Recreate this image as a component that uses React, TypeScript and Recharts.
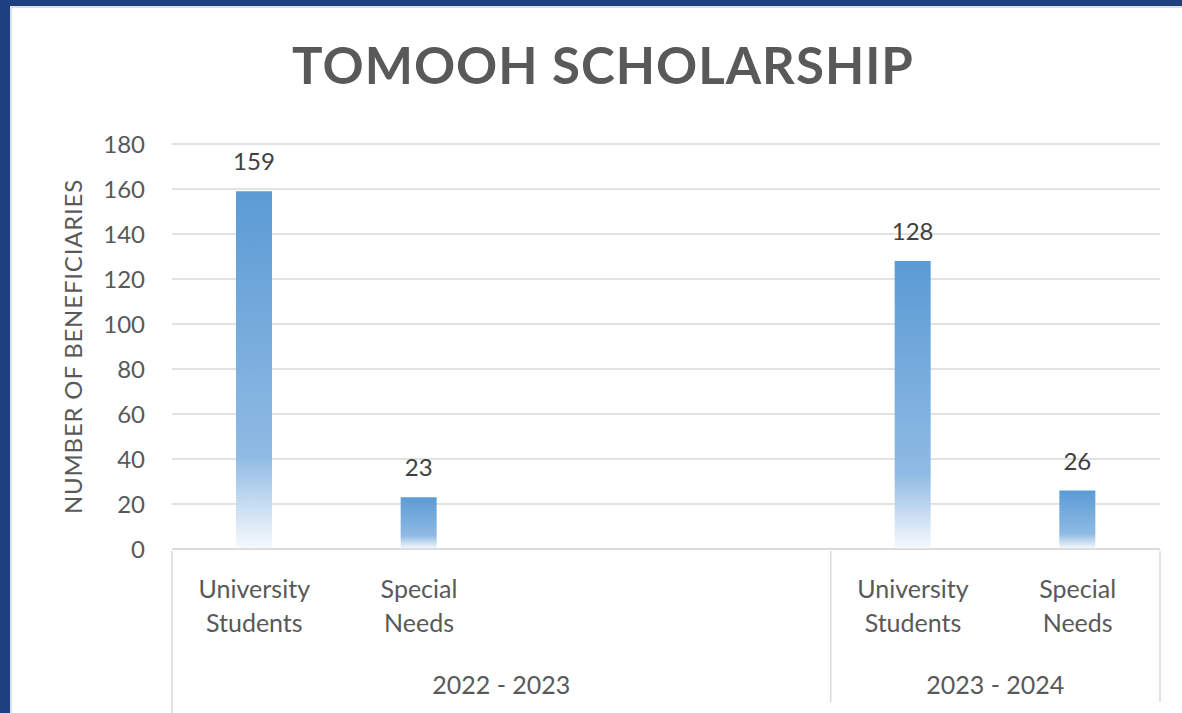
import { BarChart, Bar, XAxis, YAxis, CartesianGrid, LabelList } from 'recharts';

const categories = ['University Students', 'Special Needs', '', '', 'University Students', 'Special Needs'];
const beneficiaries = [159, 23, null, null, 128, 26];
const years = ['2022 - 2023', '2022 - 2023', '2022 - 2023', '2022 - 2023', '2023 - 2024', '2023 - 2024'];
const yTicks = [0, 20, 40, 60, 80, 100, 120, 140, 160, 180];

const chartData = categories.map((label, i) => ({
  key: `c${i}`,
  label,
  year: years[i],
  value: beneficiaries[i],
}));

const W = 1182;
const H = 713;
const xAxisHeight = 164;
const margin = { top: 144, right: 22, bottom: 0, left: 52 };
const yAxisWidth = 120;
const plotWidth = W - margin.left - margin.right - yAxisWidth;
const band = plotWidth / categories.length;

const FONT = 'Lato, "Open Sans", sans-serif';
const GREY = '#595959';

const CategoryTick = (props: any) => {
  const { x, y, payload } = props;
  const i = payload.index;
  const label = categories[i] || '';
  const words = label.split(' ');
  const first = i === 0 || years[i] !== years[i - 1];
  const last = i === categories.length - 1;
  let groupCenter = x;
  if (first) {
    let n = 0;
    while (i + n < years.length && years[i + n] === years[i]) n++;
    groupCenter = x - band / 2 + (n * band) / 2;
  }
  return (
    <g>
      {words.map((w, k) => (
        <text key={k} x={x} y={y + 47 + k * 34} textAnchor="middle" fontSize={25} fill={GREY} fontFamily={FONT}>
          {w}
        </text>
      ))}
      {first && (
        <>
          <line x1={x - band / 2} x2={x - band / 2} y1={y} y2={y + (i === 0 ? 164 : 151)} stroke="#D9D9D9" strokeWidth={1.5} />
          <text x={groupCenter} y={y + 143} textAnchor="middle" fontSize={25} fill={GREY} fontFamily={FONT}>
            {years[i]}
          </text>
        </>
      )}
      {last && <line x1={x + band / 2} x2={x + band / 2} y1={y} y2={y + 151} stroke="#D9D9D9" strokeWidth={1.5} />}
    </g>
  );
};

export default function App() {
  return (
    <div style={{ position: 'fixed', left: 0, top: 0, width: W, height: H, background: '#1E3F80', overflow: 'hidden' }}>
      <div
        style={{
          position: 'absolute',
          left: 10,
          top: 6,
          width: W,
          height: H,
          background: '#fff',
          borderLeft: '2px solid #E0E0E0',
          borderTop: '2px solid #E0E0E0',
        }}
      />
      <div
        style={{
          position: 'absolute',
          left: 0,
          width: 1206,
          top: 34,
          textAlign: 'center',
          fontFamily: FONT,
          fontWeight: 700,
          fontSize: 51,
          color: GREY,
          letterSpacing: 1,
        }}
      >
        TOMOOH SCHOLARSHIP
      </div>
      <div style={{ position: 'absolute', left: 0, top: 0 }}>
        <BarChart width={W} height={H} data={chartData} margin={margin} barSize={36}>
          <defs>
            <linearGradient id="barFade" x1="0" y1="0" x2="0" y2="1">
              <stop offset="0%" stopColor="#5B9BD5" />
              <stop offset="74%" stopColor="#8FBAE3" />
              <stop offset="88%" stopColor="#C9DDF1" />
              <stop offset="100%" stopColor="#F7FAFD" />
            </linearGradient>
          </defs>
          <CartesianGrid vertical={false} stroke="#D9D9D9" strokeWidth={1.5} />
          <XAxis
            dataKey="key"
            tick={<CategoryTick />}
            tickLine={false}
            tickSize={0}
            axisLine={{ stroke: '#D9D9D9', strokeWidth: 1.5 }}
            height={xAxisHeight}
            interval={0}
          />
          <YAxis
            domain={[0, 180]}
            ticks={yTicks}
            interval={0}
            width={yAxisWidth}
            axisLine={false}
            tickLine={false}
            tickSize={0}
            tickMargin={27}
            tick={{ fontSize: 24, fill: GREY, fontFamily: FONT }}
            label={{
              content: ({ viewBox }: any) => (
                <text
                  x={viewBox.x + 20}
                  y={viewBox.y + viewBox.height / 2}
                  transform={`rotate(-90, ${viewBox.x + 20}, ${viewBox.y + viewBox.height / 2})`}
                  textAnchor="middle"
                  dominantBaseline="central"
                  fontSize={24}
                  fill={GREY}
                  fontFamily={FONT}
                  letterSpacing={0.8}
                >
                  NUMBER OF BENEFICIARIES
                </text>
              ),
            }}
          />
          <Bar dataKey="value" fill="url(#barFade)" isAnimationActive={false}>
            <LabelList dataKey="value" position="top" offset={21} fontSize={24} fill="#404040" fontFamily={FONT} />
          </Bar>
        </BarChart>
      </div>
    </div>
  );
}
